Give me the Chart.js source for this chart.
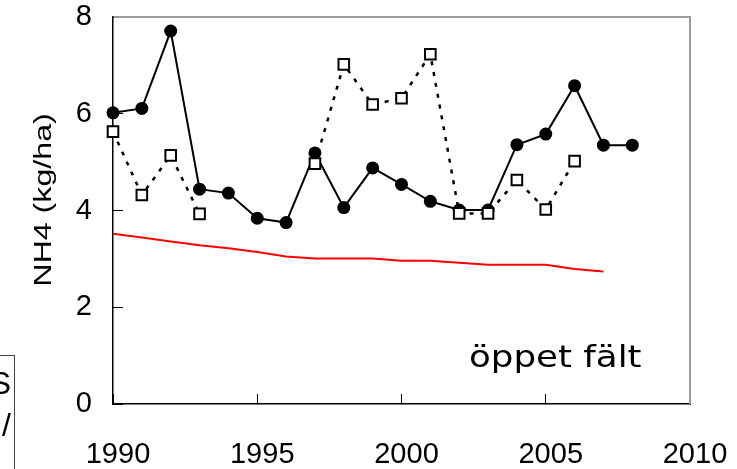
<!DOCTYPE html>
<html>
<head>
<meta charset="utf-8">
<script src="https://cdn.jsdelivr.net/npm/chart.js@4/dist/chart.umd.min.js"></script>
<style>
  html, body { margin: 0; padding: 0; background: #fff; overflow: hidden; }
  #wrap { position: relative; width: 737px; height: 469px; }
  #cut {
    position: absolute; left: -60px; top: 355px; width: 70px; height: 140px;
    border: 1px solid #444; padding: 6px 3px 0 0;
    font: 32px "Liberation Sans", Arial, sans-serif; line-height: 42px;
    text-align: right; color: #000;
  }
</style>
</head>
<body>
<div id="wrap">
  <canvas id="chart" width="737" height="469"></canvas>
  <div id="cut">S<br>/</div>
</div>
<script>
// NH4 deposition, open field
const years = [1990, 1991, 1992, 1993, 1994, 1995, 1996, 1997, 1998, 1999,
               2000, 2001, 2002, 2003, 2004, 2005, 2006, 2007, 2008];
const measured = [6.02, 6.11, 7.71, 4.44, 4.36, 3.84, 3.75, 5.19, 4.06, 4.88,
                  4.54, 4.19, 4.01, 4.01, 5.36, 5.58, 6.58, 5.35, 5.35];
const other = [5.63, 4.32, 5.14, 3.93, null, null, null, 4.97, 7.02, 6.19,
               6.32, 7.23, 3.94, 3.94, 4.63, 4.02, 5.02, null, null];
const model = [3.52, 3.44, 3.36, 3.28, 3.22, 3.14, 3.05, 3.01, 3.01, 3.01,
               2.96, 2.96, 2.92, 2.88, 2.88, 2.88, 2.79, 2.74, null];
const xTicks = [1990, 1995, 2000, 2005, 2010];
const yTicks = [0, 2, 4, 6, 8];
const yTitle = "NH4 (kg/ha)";
const label = "öppet fält";

function pts(arr){
  return years.map(function(y, i){ return {x: y, y: arr[i]}; });
}

// gray frame on top/right + stretched texts
const extras = {
  id: "extras",
  afterDraw: function(chart){
    const ctx = chart.ctx, a = chart.chartArea;
    ctx.save();
    ctx.strokeStyle = "#9a9a9a";
    ctx.lineWidth = 2;
    ctx.beginPath();
    ctx.moveTo(a.left + 1, a.top);
    ctx.lineTo(a.right, a.top);
    ctx.lineTo(a.right, a.bottom);
    ctx.stroke();

    ctx.fillStyle = "#000";
    ctx.font = '31px "DejaVu Sans"';
    ctx.textBaseline = "alphabetic";
    ctx.textAlign = "left";
    ctx.translate(469, 367);
    ctx.scale(1.15, 1);
    ctx.fillText(label, 0, 0);
    ctx.restore();

    ctx.save();
    ctx.fillStyle = "#000";
    ctx.font = '23px "Liberation Sans"';
    ctx.textAlign = "center";
    ctx.textBaseline = "middle";
    ctx.translate(45, 200);
    ctx.rotate(-Math.PI / 2);
    ctx.scale(1.4, 1);
    ctx.fillText(yTitle, 0, 0);
    ctx.restore();
  }
};

new Chart(document.getElementById("chart"), {
  type: "line",
  data: {
    datasets: [
      {
        data: pts(other),
        borderColor: "#000",
        borderWidth: 2.5,
        borderDash: [4, 7],
        pointStyle: "rect",
        pointRadius: 7.5,
        pointBorderWidth: 2,
        pointBorderColor: "#000",
        pointBackgroundColor: "#fff",
        spanGaps: false,
        clip: false,
        order: 0
      },
      {
        data: pts(measured),
        borderColor: "#000",
        borderWidth: 2,
        pointStyle: "circle",
        pointRadius: 6.5,
        pointBorderWidth: 0,
        pointBackgroundColor: "#000",
        clip: false,
        order: 1
      },
      {
        data: pts(model),
        borderColor: "#ff0000",
        borderWidth: 2,
        pointRadius: 0,
        clip: false,
        order: 2
      }
    ]
  },
  options: {
    responsive: false,
    animation: false,
    devicePixelRatio: 1,
    layout: { padding: { left: 0, right: 47, top: 17, bottom: 0 } },
    plugins: { legend: { display: false }, tooltip: { enabled: false } },
    scales: {
      x: {
        type: "linear",
        min: 1990, max: 2010,
        afterBuildTicks: function(s){ s.ticks = xTicks.map(function(v){ return {value: v}; }); },
        afterFit: function(s){
          s.height = 65;
          s.paddingLeft = 0; s.paddingRight = 0;
        },
        border: { display: true, color: "#000", width: 1.5 },
        grid: { drawOnChartArea: false, drawTicks: true, tickLength: -10, color: "#000", lineWidth: 1 },
        ticks: {
          autoSkip: false, maxRotation: 0, padding: 44, labelOffset: 5,
          color: "#000", font: { family: "Liberation Sans", size: 29 },
          callback: function(v){ return String(v); }
        }
      },
      y: {
        min: 0, max: 8,
        afterBuildTicks: function(s){ s.ticks = yTicks.map(function(v){ return {value: v}; }); },
        afterFit: function(s){
          s.width = 113;
          s.paddingTop = 0; s.paddingBottom = 0;
        },
        border: { display: true, color: "#000", width: 1.5 },
        grid: { drawOnChartArea: false, drawTicks: true, tickLength: -10, color: "#000", lineWidth: 1 },
        ticks: {
          padding: 31, color: "#000",
          font: { family: "Liberation Sans", size: 29 }
        }
      }
    }
  },
  plugins: [extras]
});
</script>
</body>
</html>
